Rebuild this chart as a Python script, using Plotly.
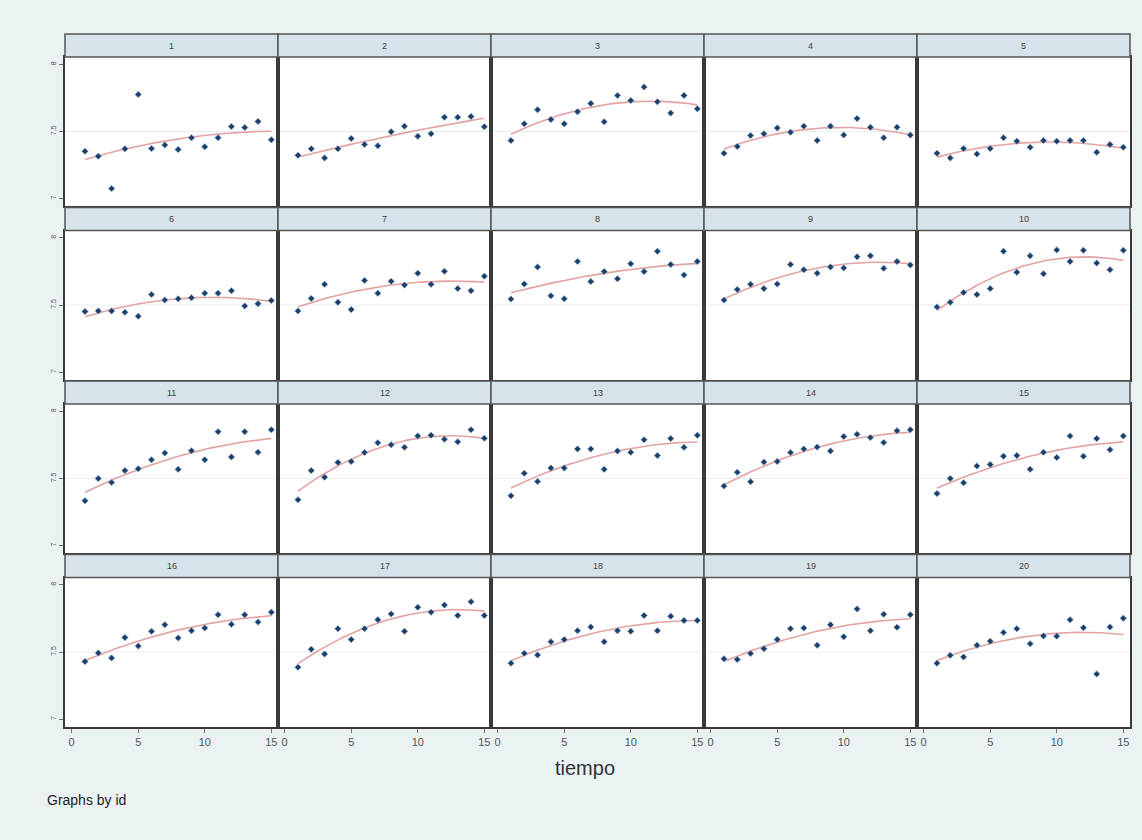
import numpy as np
import plotly.graph_objects as go

tiempo = list(range(1, 16))

id1 = [7.353, 7.316, 7.075, 7.371, 7.776, 7.373, 7.400, 7.366, 7.453, 7.386, 7.453, 7.537, 7.530, 7.575, 7.438]
id2 = [7.323, 7.371, 7.303, 7.371, 7.448, 7.403, 7.393, 7.498, 7.540, 7.465, 7.483, 7.607, 7.607, 7.612, 7.535]
id3 = [7.433, 7.557, 7.662, 7.590, 7.557, 7.647, 7.709, 7.572, 7.769, 7.731, 7.831, 7.721, 7.637, 7.769, 7.669]
id4 = [7.338, 7.388, 7.470, 7.483, 7.527, 7.495, 7.540, 7.433, 7.540, 7.473, 7.597, 7.532, 7.453, 7.532, 7.473]
id5 = [7.338, 7.303, 7.373, 7.333, 7.373, 7.453, 7.428, 7.383, 7.433, 7.428, 7.433, 7.433, 7.346, 7.403, 7.383]
id6 = [7.451, 7.456, 7.456, 7.446, 7.417, 7.578, 7.537, 7.546, 7.554, 7.588, 7.588, 7.607, 7.493, 7.510, 7.534]
id7 = [7.456, 7.549, 7.654, 7.520, 7.466, 7.683, 7.588, 7.676, 7.649, 7.737, 7.654, 7.751, 7.622, 7.607, 7.715]
id8 = [7.544, 7.656, 7.783, 7.568, 7.546, 7.824, 7.675, 7.749, 7.695, 7.807, 7.749, 7.900, 7.802, 7.724, 7.824]
id9 = [7.537, 7.615, 7.654, 7.622, 7.656, 7.802, 7.763, 7.737, 7.783, 7.776, 7.859, 7.866, 7.773, 7.824, 7.798]
id10 = [7.485, 7.520, 7.593, 7.578, 7.622, 7.900, 7.744, 7.866, 7.732, 7.910, 7.824, 7.907, 7.812, 7.763, 7.907]
id11 = [7.334, 7.500, 7.471, 7.559, 7.573, 7.639, 7.690, 7.568, 7.707, 7.639, 7.849, 7.661, 7.849, 7.695, 7.863]
id12 = [7.341, 7.559, 7.510, 7.620, 7.627, 7.693, 7.766, 7.751, 7.732, 7.817, 7.822, 7.793, 7.773, 7.863, 7.800]
id13 = [7.371, 7.539, 7.478, 7.578, 7.578, 7.720, 7.720, 7.568, 7.705, 7.695, 7.788, 7.671, 7.798, 7.732, 7.822]
id14 = [7.444, 7.546, 7.476, 7.622, 7.627, 7.693, 7.720, 7.734, 7.705, 7.812, 7.829, 7.805, 7.768, 7.856, 7.863]
id15 = [7.388, 7.500, 7.468, 7.593, 7.605, 7.666, 7.671, 7.568, 7.695, 7.656, 7.817, 7.666, 7.798, 7.715, 7.817]
id16 = [7.429, 7.493, 7.456, 7.608, 7.544, 7.654, 7.703, 7.605, 7.659, 7.679, 7.777, 7.706, 7.777, 7.723, 7.797]
id17 = [7.387, 7.520, 7.485, 7.674, 7.593, 7.674, 7.740, 7.784, 7.654, 7.833, 7.797, 7.850, 7.772, 7.875, 7.772]
id18 = [7.417, 7.490, 7.478, 7.576, 7.593, 7.659, 7.686, 7.576, 7.659, 7.654, 7.772, 7.659, 7.767, 7.735, 7.735]
id19 = [7.449, 7.444, 7.488, 7.525, 7.593, 7.674, 7.679, 7.551, 7.703, 7.613, 7.821, 7.659, 7.782, 7.684, 7.777]
id20 = [7.417, 7.475, 7.463, 7.551, 7.581, 7.645, 7.674, 7.561, 7.620, 7.618, 7.740, 7.681, 7.336, 7.686, 7.752]

series = [id1, id2, id3, id4, id5, id6, id7, id8, id9, id10,
          id11, id12, id13, id14, id15, id16, id17, id18, id19, id20]
panel_labels = [str(i) for i in range(1, 21)]

y_tickvals = [7, 7.5, 8]
y_ticktext = ["7", "7.5", "8"]
x_tickvals = [0, 5, 10, 15]

W, H = 1142, 840
col_edges = [65, 278, 491, 704, 917, 1130]
row_top0 = 34
row_step = 173.5
strip_h = 23
plot_h = 149

BORDER = "#3a3a3a"
fig = go.Figure()
layout = dict(
    width=W, height=H,
    margin=dict(l=0, r=0, t=0, b=0),
    paper_bgcolor="#eaf2f3",
    plot_bgcolor="white",
    showlegend=False,
    font=dict(family="Liberation Sans, Arial, sans-serif", color="#333"),
)
shapes = []
annotations = []

t_fine = np.linspace(1, 15, 60)
for k, yv in enumerate(series):
    n = k + 1
    r, c = divmod(k, 5)
    x0, x1 = col_edges[c], col_edges[c + 1]
    top = row_top0 + r * row_step
    ptop = top + strip_h
    pbot = ptop + plot_h
    xs = "x" if n == 1 else f"x{n}"
    ys = "y" if n == 1 else f"y{n}"
    xname = "xaxis" if n == 1 else f"xaxis{n}"
    yname = "yaxis" if n == 1 else f"yaxis{n}"

    coef = np.polyfit(tiempo, yv, 2)
    fig.add_trace(go.Scatter(x=t_fine, y=np.polyval(coef, t_fine), mode="lines",
                             line=dict(color="#e4a3a3", width=1.6),
                             xaxis=xs, yaxis=ys, hoverinfo="skip"))
    fig.add_trace(go.Scatter(x=tiempo, y=yv, mode="markers",
                             marker=dict(color="#1b3f6b", size=5, symbol="diamond",
                                         line=dict(color="#8fa9c4", width=0.6)),
                             xaxis=xs, yaxis=ys))

    bottom_row = (r == 3)
    left_col = (c == 0)
    layout[xname] = dict(
        domain=[x0 / W, x1 / W], anchor=ys, range=[-0.5, 15.5],
        showgrid=False, zeroline=False, showline=True, mirror=True,
        linecolor=BORDER, linewidth=2,
        tickvals=x_tickvals, ticks="outside" if bottom_row else "",
        ticklen=4, tickcolor="#777", showticklabels=bottom_row,
        tickfont=dict(size=11, color="#555"),
    )
    layout[yname] = dict(
        domain=[1 - pbot / H, 1 - ptop / H], anchor=xs, range=[6.945, 8.055],
        showgrid=False, zeroline=False, showline=True, mirror=True,
        linecolor=BORDER, linewidth=2,
        tickvals=y_tickvals, ticktext=y_ticktext,
        ticks="outside" if left_col else "", ticklen=4, tickcolor="#777",
        showticklabels=left_col, tickangle=-90,
        tickfont=dict(size=7, color="#555"),
    )
    shapes.append(dict(type="line", xref=f"{xs} domain", yref=ys, x0=0, x1=1,
                       y0=7.5, y1=7.5, line=dict(color="#e6eef1", width=1),
                       layer="below"))
    shapes.append(dict(type="rect", xref="paper", yref="paper",
                       x0=x0 / W, x1=x1 / W, y0=1 - ptop / H, y1=1 - top / H,
                       fillcolor="#d6e3ea", line=dict(color="#555", width=1.5)))
    annotations.append(dict(text=panel_labels[k], xref="paper", yref="paper",
                            x=(x0 + x1) / 2 / W, y=1 - (top + strip_h / 2) / H,
                            xanchor="center", yanchor="middle",
                            showarrow=False, font=dict(size=9, color="#444")))

annotations.append(dict(text="tiempo", xref="paper", yref="paper",
                        x=585 / W, y=1 - 768 / H, xanchor="center", yanchor="middle",
                        showarrow=False, font=dict(size=20, color="#333")))
annotations.append(dict(text="Graphs by id", xref="paper", yref="paper",
                        x=45 / W, y=1 - 800 / H, xanchor="left", yanchor="middle",
                        showarrow=False, font=dict(size=14, color="#222")))

layout["shapes"] = shapes
layout["annotations"] = annotations
fig.update_layout(**layout)
fig.write_html("out.html")
